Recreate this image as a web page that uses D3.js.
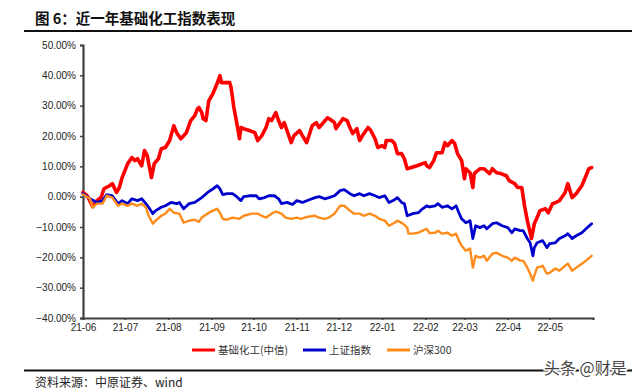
<!DOCTYPE html>
<html><head><meta charset="utf-8">
<script src="https://cdn.jsdelivr.net/npm/d3@7"></script>
<style>
html,body{margin:0;padding:0;background:#fff;}
svg{display:block;}
</style></head>
<body>
<svg id="c" width="640" height="390"></svg>
<script>
const titleText = "图 6：近一年基础化工指数表现";
const sourceText = "资料来源：中原证券、wind";
const watermarkText = "头条 @财是";
const seriesNames = ["基础化工(中信)", "上证指数", "沪深300"];
const seriesColors = ["#ff0000", "#0000cc", "#ff8c1a"];
const yTicks = [50, 40, 30, 20, 10, 0, -10, -20, -30, -40];
const xTickLabels = ["21-06","21-07","21-08","21-09","21-10","21-11","21-12","22-01","22-02","22-03","22-04","22-05"];

const redSeries = [
["2021-06-01",1.4],["2021-06-04",0.3],["2021-06-08",-3.3],["2021-06-11",-1.3],["2021-06-14",-0.2],["2021-06-16",2.6],
["2021-06-20",3.6],["2021-06-22",4.3],["2021-06-25",1.4],["2021-06-27",3.0],["2021-06-29",6.3],["2021-07-03",10.9],
["2021-07-06",12.9],["2021-07-08",11.9],["2021-07-10",12.5],["2021-07-13",10.2],["2021-07-15",15.2],["2021-07-17",13.5],
["2021-07-20",6.3],["2021-07-22",10.9],["2021-07-25",12.5],["2021-07-27",15.8],["2021-07-30",16.2],["2021-08-02",18.5],
["2021-08-05",23.4],["2021-08-07",21.1],["2021-08-10",19.1],["2021-08-14",21.1],["2021-08-17",25.0],["2021-08-20",26.7],
["2021-08-22",29.0],["2021-08-23",29.4],["2021-08-25",27.7],["2021-08-26",25.7],["2021-08-28",25.1],["2021-08-30",31.6],
["2021-09-02",34.0],["2021-09-05",37.3],["2021-09-07",39.9],["2021-09-08",37.6],["2021-09-10",37.6],["2021-09-14",37.6],
["2021-09-15",35.9],["2021-09-17",29.3],["2021-09-19",24.4],["2021-09-21",19.1],["2021-09-22",22.8],["2021-09-24",22.4],
["2021-09-28",21.8],["2021-10-02",21.1],["2021-10-04",18.5],["2021-10-07",20.1],["2021-10-10",22.8],["2021-10-12",25.7],
["2021-10-14",25.1],["2021-10-17",27.7],["2021-10-19",25.1],["2021-10-21",22.8],["2021-10-23",24.4],["2021-10-25",21.8],
["2021-10-28",17.8],["2021-10-30",20.1],["2021-11-03",21.8],["2021-11-05",20.1],["2021-11-08",17.8],["2021-11-10",20.5],
["2021-11-12",23.4],["2021-11-15",24.4],["2021-11-17",22.8],["2021-11-20",24.4],["2021-11-23",26.0],["2021-11-26",25.1],
["2021-11-28",24.4],["2021-11-29",22.4],["2021-12-02",24.4],["2021-12-04",25.7],["2021-12-07",25.1],["2021-12-09",22.8],
["2021-12-11",20.8],["2021-12-14",22.4],["2021-12-16",18.5],["2021-12-18",20.1],["2021-12-22",22.8],["2021-12-24",21.8],
["2021-12-27",19.1],["2021-12-29",16.2],["2022-01-01",16.8],["2022-01-03",16.2],["2022-01-04",18.5],["2022-01-08",18.5],
["2022-01-10",17.5],["2022-01-12",14.2],["2022-01-15",14.2],["2022-01-17",12.5],["2022-01-19",9.2],["2022-01-22",9.6],
["2022-01-26",10.2],["2022-01-30",10.9],["2022-02-01",11.2],["2022-02-02",10.2],["2022-02-04",9.6],["2022-02-07",11.9],
["2022-02-09",14.5],["2022-02-13",14.5],["2022-02-15",17.8],["2022-02-17",16.8],["2022-02-20",18.5],["2022-02-22",17.5],
["2022-02-24",14.2],["2022-02-27",11.9],["2022-03-01",5.9],["2022-03-02",9.2],["2022-03-05",7.9],["2022-03-07",3.0],
["2022-03-08",7.6],["2022-03-12",9.2],["2022-03-15",9.2],["2022-03-19",7.6],["2022-03-21",9.2],["2022-03-24",7.9],
["2022-03-27",7.6],["2022-03-31",6.9],["2022-04-02",5.3],["2022-04-06",4.3],["2022-04-08",3.0],["2022-04-11",3.0],
["2022-04-13",-3.0],["2022-04-15",-7.9],["2022-04-18",-13.8],["2022-04-20",-8.9],["2022-04-22",-6.9],["2022-04-24",-4.6],
["2022-04-28",-4.0],["2022-04-30",-5.3],["2022-05-03",-2.3],["2022-05-05",-2.0],["2022-05-08",-1.3],["2022-05-12",1.3],
["2022-05-14",4.3],["2022-05-17",-0.3],["2022-05-20",1.0],["2022-05-24",3.6],["2022-05-27",6.9],["2022-05-29",9.2],
["2022-05-31",9.6]
];

const blueSeries = [
["2021-06-01",1.0],["2021-06-06",-0.7],["2021-06-11",-1.9],["2021-06-15",-1.3],["2021-06-18",0.7],["2021-06-22",0.3],
["2021-06-26",-2.3],["2021-06-29",-1.3],["2021-07-03",-2.3],["2021-07-06",-0.7],["2021-07-10",-1.3],["2021-07-13",-0.7],
["2021-07-16",-2.3],["2021-07-18",-3.5],["2021-07-21",-5.6],["2021-07-23",-4.6],["2021-07-27",-3.5],["2021-07-30",-3.0],
["2021-08-03",-1.9],["2021-08-07",-2.3],["2021-08-09",-1.9],["2021-08-12",-4.0],["2021-08-16",-2.3],["2021-08-20",-1.9],
["2021-08-25",-0.3],["2021-08-29",1.3],["2021-09-02",2.6],["2021-09-05",3.6],["2021-09-07",2.6],["2021-09-09",0.7],
["2021-09-12",1.0],["2021-09-16",1.0],["2021-09-19",0.0],["2021-09-22",-1.3],["2021-09-24",0.0],["2021-09-28",0.3],
["2021-10-03",0.3],["2021-10-05",-0.7],["2021-10-09",-0.3],["2021-10-12",0.3],["2021-10-16",0.3],["2021-10-19",-0.7],
["2021-10-21",-2.3],["2021-10-25",-1.9],["2021-10-29",-2.6],["2021-11-01",-1.3],["2021-11-05",-1.9],["2021-11-10",-1.0],
["2021-11-14",-0.3],["2021-11-17",0.0],["2021-11-21",-0.7],["2021-11-24",-0.3],["2021-11-28",0.3],["2021-12-02",2.0],
["2021-12-05",2.3],["2021-12-09",1.0],["2021-12-12",0.3],["2021-12-16",1.0],["2021-12-19",0.3],["2021-12-23",1.0],
["2021-12-27",0.3],["2021-12-30",-0.3],["2022-01-03",0.3],["2022-01-06",-1.9],["2022-01-10",-1.0],["2022-01-12",-0.3],
["2022-01-15",-1.9],["2022-01-17",-2.3],["2022-01-19",-6.3],["2022-01-23",-5.6],["2022-01-27",-5.3],["2022-01-30",-4.0],
["2022-02-02",-3.0],["2022-02-04",-3.4],["2022-02-08",-3.0],["2022-02-10",-2.3],["2022-02-13",-3.5],["2022-02-17",-3.0],
["2022-02-20",-4.0],["2022-02-23",-3.0],["2022-02-25",-5.3],["2022-02-27",-7.3],["2022-03-02",-8.6],["2022-03-05",-7.9],
["2022-03-07",-13.8],["2022-03-09",-9.6],["2022-03-12",-10.2],["2022-03-15",-9.6],["2022-03-17",-10.6],["2022-03-21",-8.9],
["2022-03-24",-8.6],["2022-03-28",-9.6],["2022-04-01",-10.2],["2022-04-04",-11.9],["2022-04-06",-10.6],["2022-04-10",-11.2],
["2022-04-12",-11.2],["2022-04-15",-13.8],["2022-04-17",-15.2],["2022-04-19",-19.5],["2022-04-20",-16.8],["2022-04-22",-15.2],
["2022-04-26",-14.5],["2022-04-29",-16.8],["2022-05-01",-15.5],["2022-05-05",-15.2],["2022-05-08",-13.8],["2022-05-12",-12.9],
["2022-05-14",-12.2],["2022-05-17",-13.8],["2022-05-20",-12.9],["2022-05-24",-11.9],["2022-05-27",-10.6],["2022-05-31",-8.9]
];

const orangeSeries = [
["2021-06-01",0.7],["2021-06-06",-0.7],["2021-06-08",-3.5],["2021-06-11",-2.3],["2021-06-15",-2.3],["2021-06-18",0.3],
["2021-06-22",-0.3],["2021-06-26",-3.0],["2021-06-29",-2.3],["2021-07-03",-3.0],["2021-07-06",-2.3],["2021-07-10",-3.0],
["2021-07-13",-2.3],["2021-07-16",-3.5],["2021-07-18",-6.3],["2021-07-21",-8.9],["2021-07-23",-7.9],["2021-07-27",-6.3],
["2021-07-30",-5.6],["2021-08-02",-4.0],["2021-08-05",-5.3],["2021-08-09",-5.6],["2021-08-12",-8.6],["2021-08-16",-7.9],
["2021-08-20",-7.6],["2021-08-23",-8.3],["2021-08-25",-6.9],["2021-08-29",-5.6],["2021-09-02",-4.6],["2021-09-05",-4.0],
["2021-09-07",-5.3],["2021-09-09",-7.3],["2021-09-12",-7.6],["2021-09-16",-6.9],["2021-09-21",-7.3],["2021-09-24",-6.3],
["2021-09-30",-5.6],["2021-10-04",-5.6],["2021-10-07",-6.3],["2021-10-10",-6.9],["2021-10-14",-5.6],["2021-10-17",-4.9],
["2021-10-21",-5.6],["2021-10-24",-6.9],["2021-10-28",-7.3],["2021-11-01",-6.9],["2021-11-04",-7.3],["2021-11-09",-6.6],
["2021-11-14",-6.3],["2021-11-17",-6.9],["2021-11-21",-7.3],["2021-11-24",-6.9],["2021-11-28",-5.6],["2021-12-02",-3.0],
["2021-12-05",-3.0],["2021-12-09",-4.6],["2021-12-12",-5.6],["2021-12-16",-5.6],["2021-12-19",-6.3],["2021-12-23",-5.6],
["2021-12-27",-6.3],["2021-12-30",-7.3],["2022-01-03",-7.9],["2022-01-06",-9.6],["2022-01-10",-8.6],["2022-01-12",-7.9],
["2022-01-16",-8.9],["2022-01-19",-10.2],["2022-01-20",-12.2],["2022-01-23",-12.2],["2022-01-27",-11.9],["2022-01-30",-11.2],
["2022-02-02",-10.6],["2022-02-04",-12.0],["2022-02-08",-11.9],["2022-02-10",-11.2],["2022-02-13",-12.2],["2022-02-17",-11.9],
["2022-02-20",-12.9],["2022-02-23",-12.2],["2022-02-25",-14.5],["2022-02-27",-16.2],["2022-03-02",-17.8],["2022-03-05",-17.1],
["2022-03-07",-23.4],["2022-03-09",-19.5],["2022-03-12",-20.1],["2022-03-15",-19.5],["2022-03-17",-21.1],["2022-03-21",-18.8],
["2022-03-24",-18.5],["2022-03-28",-19.5],["2022-04-01",-20.1],["2022-04-04",-21.1],["2022-04-06",-20.1],["2022-04-10",-21.1],
["2022-04-12",-21.1],["2022-04-15",-23.4],["2022-04-17",-25.4],["2022-04-19",-27.7],["2022-04-20",-26.0],["2022-04-22",-23.4],
["2022-04-26",-22.8],["2022-04-29",-25.4],["2022-05-01",-25.1],["2022-05-05",-23.7],["2022-05-08",-24.4],["2022-05-12",-22.8],
["2022-05-14",-22.1],["2022-05-17",-24.4],["2022-05-20",-23.4],["2022-05-24",-22.1],["2022-05-27",-21.1],["2022-05-31",-19.5]
];

const parse = d3.timeParse("%Y-%m-%d");
const svg = d3.select("#c");
const plotLeft = 83, plotRight = 593, plotTop = 45, plotBottom = 318;

const x = d3.scaleTime().domain([parse("2021-06-01"), parse("2022-06-01")]).range([plotLeft, plotRight]);
const y = d3.scaleLinear().domain([-40, 50]).range([plotBottom, plotTop]);

// Title
svg.append("text").attr("x", 35).attr("y", 24)
  .attr("font-family", "'Noto Sans CJK SC', sans-serif").attr("font-weight", 700)
  .attr("font-size", 14.5).attr("fill", "#111").text(titleText);
svg.append("line").attr("x1", 24).attr("x2", 632).attr("y1", 31).attr("y2", 31)
  .attr("stroke", "#111").attr("stroke-width", 2);

// Y axis
const yAxis = d3.axisLeft(y).tickValues(yTicks).tickSize(3).tickPadding(4)
  .tickFormat(d => d3.format(".2f")(d) + "%");
const gy = svg.append("g").attr("transform", `translate(${plotLeft},0)`).call(yAxis);
gy.select(".domain").attr("stroke", "#404040").attr("stroke-width", 2.2);
gy.selectAll(".tick line").attr("stroke", "#404040").attr("stroke-width", 1.5);
gy.selectAll(".tick text").attr("font-family", "'Liberation Sans', Arial, sans-serif")
  .attr("font-size", 10).attr("fill", "#222");

// X axis
const monthTicks = xTickLabels.map(s => parse("20" + s + "-01"));
const xAxis = d3.axisBottom(x).tickValues(monthTicks).tickSize(2).tickPadding(4)
  .tickFormat((d, i) => xTickLabels[i]);
const gx = svg.append("g").attr("transform", `translate(0,${plotBottom})`).call(xAxis);
gx.select(".domain").attr("stroke", "#404040").attr("stroke-width", 2.2);
gx.selectAll(".tick line").attr("stroke", "#404040").attr("stroke-width", 1.5);
gx.selectAll(".tick text").attr("font-family", "'Liberation Sans', Arial, sans-serif")
  .attr("font-size", 10).attr("fill", "#222");

// Lines
const line = d3.line().x(d => x(parse(d[0]))).y(d => y(d[1])).curve(d3.curveLinear);
const allSeries = [redSeries, blueSeries, orangeSeries];
const widths = [3.6, 2.8, 2.4];
allSeries.forEach((s, i) => {
  svg.append("path").datum(s).attr("d", line).attr("fill", "none")
    .attr("stroke", seriesColors[i]).attr("stroke-width", widths[i])
    .attr("stroke-linejoin", "round").attr("stroke-linecap", "round");
});

// Legend
const legendX = [192, 303, 387];
seriesNames.forEach((n, i) => {
  svg.append("line").attr("x1", legendX[i]).attr("x2", legendX[i] + 23)
    .attr("y1", 350).attr("y2", 350).attr("stroke", seriesColors[i]).attr("stroke-width", 3);
  svg.append("text").attr("x", legendX[i] + 26).attr("y", 354)
    .attr("font-family", "'Noto Sans CJK SC', sans-serif").attr("font-size", 10.5)
    .attr("fill", "#333").text(n);
});

// Footer
svg.append("line").attr("x1", 24).attr("x2", 632).attr("y1", 370.5).attr("y2", 370.5)
  .attr("stroke", "#111").attr("stroke-width", 2);
svg.append("text").attr("x", 35).attr("y", 387)
  .attr("font-family", "'Noto Sans CJK SC', sans-serif").attr("font-size", 12)
  .attr("fill", "#222").text(sourceText);
svg.append("text").attr("x", 544).attr("y", 374)
  .attr("font-family", "'Noto Sans CJK SC', sans-serif").attr("font-size", 16)
  .attr("fill", "#444").attr("stroke", "#fff").attr("stroke-width", 3)
  .attr("paint-order", "stroke").text(watermarkText);
</script>
</body></html>
